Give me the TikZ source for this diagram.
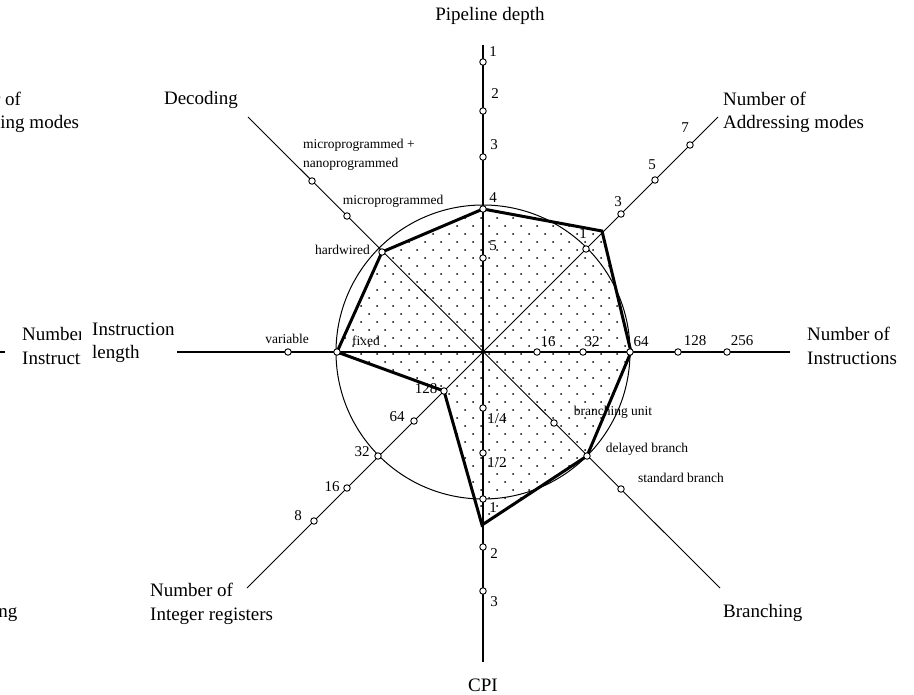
\documentclass[tikz,border=0pt]{standalone}
\usepackage{fontspec}
\setmainfont{Liberation Serif}
\begin{document}
\begin{tikzpicture}[x=1pt,y=-1pt,
  title/.style={font=\fontsize{19}{23.5}\selectfont, inner sep=0pt, align=left},
  lbl/.style={font=\fontsize{13.5}{19}\selectfont, inner sep=0pt, align=left},
  num/.style={font=\fontsize{15}{18}\selectfont, inner sep=0pt},
  tick/.style={draw, fill=white, line width=0.9pt, circle, minimum size=6.5pt, inner sep=0pt},
  mainaxis/.style={line width=1.5pt},
  diagaxis/.style={line width=0.9pt},
  guide/.style={line width=1pt},
  profile/.style={line width=3pt, line join=miter},
]
\useasboundingbox (0,0) rectangle (914,695);

% centre and axis ends
\coordinate (O) at (483,352);
\coordinate (Nend) at (483,45);
\coordinate (Send) at (483,662);
\coordinate (Wend) at (177,352);
\coordinate (Eend) at (790,352);
\coordinate (NEend) at (718,117);
\coordinate (NWend) at (248,117);
\coordinate (SWend) at (247,588);
\coordinate (SEend) at (720,588);

% profile corners
\coordinate (p1) at (483,209);
\coordinate (p2) at (602,231);
\coordinate (p3) at (631,352);
\coordinate (p4) at (587,456);
\coordinate (p5) at (482,525);
\coordinate (p6) at (444,391);
\coordinate (p7) at (337,352);
\coordinate (p8) at (382,252);

% dotted fill of the profile
\begin{scope}
  \clip (p1)--(p2)--(p3)--(p4)--(p5)--(p6)--(p7)--(p8)--cycle;
  \foreach \j in {0,...,42} {
    \pgfmathsetmacro\yy{202+8*\j}
    \pgfmathsetmacro\xo{mod(\j,2)*8}
    \foreach \i in {0,...,20} {
      \fill ({321+\xo+16*\i},\yy) circle (1.0);
    }
  }
\end{scope}

% reference circle
\draw[guide] (O) circle (147);

% axes
\draw[mainaxis] (Nend) -- (Send);
\draw[mainaxis] (Wend) -- (Eend);
\draw[diagaxis] (NWend) -- (SEend);
\draw[diagaxis] (SWend) -- (NEend);

% profile
\draw[profile] (p1)--(p2)--(p3)--(p4)--(p5)--(p6)--(p7)--(p8)--cycle;

% pipeline depth ticks
\node[tick] (pd1) at (483,62) {};
\node[tick] (pd2) at (483,111) {};
\node[tick] (pd3) at (483,157) {};
\node[tick] (pd4) at (483,209) {};
\node[tick] (pd5) at (483,258) {};
\node[num] at (493,52) {1};
\node[num] at (495,94) {2};
\node[num] at (494,145) {3};
\node[num] at (493,198) {4};
\node[num] at (493,246) {5};

% addressing modes ticks
\node[tick] (am1) at (586,249) {};
\node[tick] (am3) at (621,214) {};
\node[tick] (am5) at (655,180) {};
\node[tick] (am7) at (690,145) {};
\node[num] at (583,234) {1};
\node[num] at (618,202) {3};
\node[num] at (652,165) {5};
\node[num] at (685,128) {7};

% instruction count ticks
\node[tick] (ni16) at (537,352) {};
\node[tick] (ni32) at (583,352) {};
\node[tick] (ni64) at (630,352) {};
\node[tick] (ni128) at (678,352) {};
\node[tick] (ni256) at (727,352) {};
\node[num] at (548,342) {16};
\node[num] at (592,342) {32};
\node[num] at (641,342) {64};
\node[num] at (695,341) {128};
\node[num] at (742,341) {256};

% branching ticks
\node[tick] (br1) at (554,423) {};
\node[tick] (br2) at (587,456) {};
\node[tick] (br3) at (621,489) {};
\node[lbl] at (613,412) {branching unit};
\node[lbl] at (647,449) {delayed branch};
\node[lbl] at (681,478) {standard branch};

% CPI ticks
\node[tick] (cpi1) at (483,408) {};
\node[tick] (cpi2) at (483,453) {};
\node[tick] (cpi3) at (483,499) {};
\node[tick] (cpi4) at (483,547) {};
\node[tick] (cpi5) at (483,591) {};
\node[num] at (497,419) {1/4};
\node[num] at (497,463) {1/2};
\node[num] at (493,508) {1};
\node[num] at (494,554) {2};
\node[num] at (494,602) {3};

% integer register ticks
\node[tick] (ir128) at (444,391) {};
\node[tick] (ir64) at (414,421) {};
\node[tick] (ir32) at (378,456) {};
\node[tick] (ir16) at (347,488) {};
\node[tick] (ir8) at (314,521) {};
\node[num] at (426,389) {128};
\node[num] at (397,417) {64};
\node[num] at (362,452) {32};
\node[num] at (332,487) {16};
\node[num] at (298,516) {8};

% instruction length ticks
\node[tick] (il1) at (337,352) {};
\node[tick] (il2) at (288,352) {};
\node[lbl] at (366,341) {fixed};
\node[lbl] at (287,339) {variable};

% decoding ticks
\node[tick] (dc1) at (382,252) {};
\node[tick] (dc2) at (347,216) {};
\node[tick] (dc3) at (312,181) {};
\node[lbl, anchor=east] at (370,250) {hardwired};
\node[lbl] at (393,201) {microprogrammed};
\node[lbl, anchor=west] at (303,154.5) {microprogrammed +\\nanoprogrammed};

% axis titles
\node[title] (tPipe) at (490,16) {Pipeline depth};
\node[title, anchor=west] (tAddr) at (723,112.5) {Number of\\Addressing modes};
\node[title] (tDec) at (201,100) {Decoding};
\node[title, anchor=west] (tInstr) at (807,346) {Number of\\Instructions};
\node[title, anchor=west] (tLen) at (92,343) {Instruction\\length};
\node[title, anchor=west] (tReg) at (150,604) {Number of\\Integer registers};
\node[title, anchor=west] (tBr) at (723,613) {Branching};
\node[title] (tCPI) at (483,685) {CPI};

% edge of a neighbouring chart, cut off at the left margin
\begin{scope}
  \clip (0,0) rectangle (80,695);
  \coordinate (gA) at (-20,352);
  \coordinate (gB) at (5,352);
  \draw[mainaxis] (gA) -- (gB);
  \node[title, anchor=west] (gAddr) at (-62,112.5) {Number of\\Addressing modes};
  \node[title, anchor=west] (gInstr) at (22,346) {Number of\\Instructions};
  \node[title, anchor=west] (gBr) at (-62,613) {Branching};
\end{scope}
\end{tikzpicture}
\end{document}
